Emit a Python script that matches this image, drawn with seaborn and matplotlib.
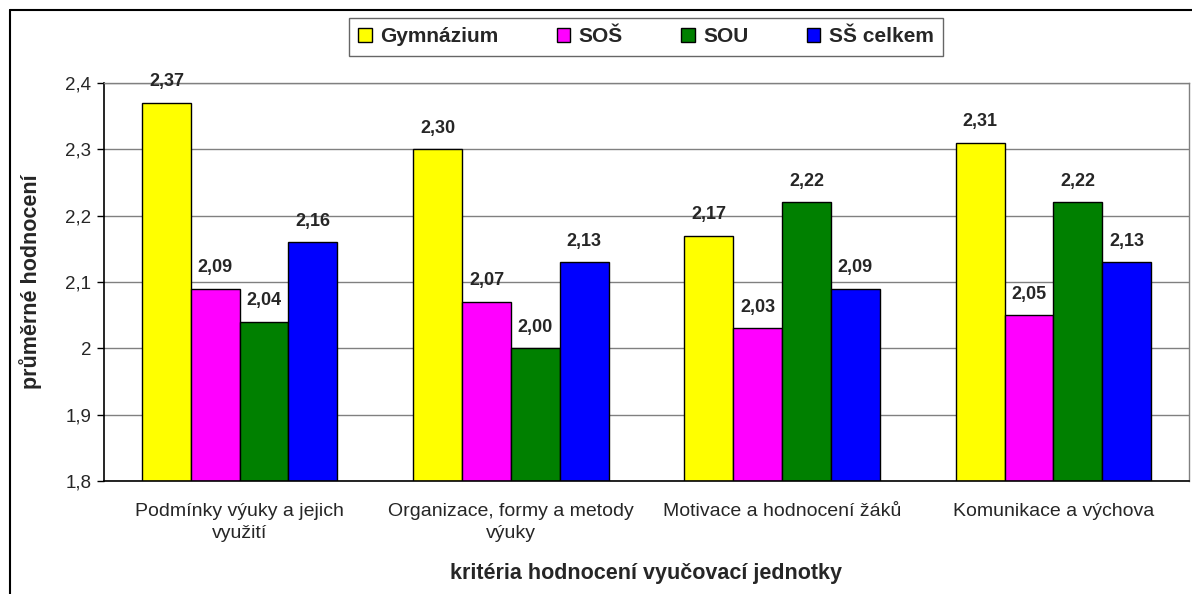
import matplotlib
matplotlib.use("Agg")
import matplotlib.pyplot as plt
import seaborn as sns
import pandas as pd
from matplotlib.lines import Line2D

categories = ["Podmínky výuky a jejich\nvyužití",
              "Organizace, formy a metody\nvýuky",
              "Motivace a hodnocení žáků",
              "Komunikace a výchova"]
series_names = ["Gymnázium", "SOŠ", "SOU", "SŠ celkem"]
gymnazium = [2.37, 2.30, 2.17, 2.31]
sos = [2.09, 2.07, 2.03, 2.05]
sou = [2.04, 2.00, 2.22, 2.22]
ss_celkem = [2.16, 2.13, 2.09, 2.13]
colors = ["#FFFF00", "#FF00FF", "#008000", "#0000FF"]
ytick_values = [1.8, 1.9, 2.0, 2.1, 2.2, 2.3, 2.4]
ytick_labels = ["1,8", "1,9", "2", "2,1", "2,2", "2,3", "2,4"]

rows = []
for name, vals in zip(series_names, [gymnazium, sos, sou, ss_celkem]):
    for cat, v in zip(categories, vals):
        rows.append({"kategorie": cat, "skupina": name, "hodnota": v})
df = pd.DataFrame(rows)

sns.set_style("white")
plt.rcParams["font.family"] = ["Liberation Sans", "DejaVu Sans"]

W, H = 1192, 594
fig = plt.figure(figsize=(W / 100, H / 100), dpi=100)
ax = fig.add_axes([104 / W, 1 - 481 / H, (1189 - 104) / W, (481 - 83) / H])

sns.barplot(data=df, x="kategorie", y="hodnota", hue="skupina",
            order=categories, hue_order=series_names, palette=colors,
            width=0.72, edgecolor="black", linewidth=1, saturation=1,
            ax=ax)

ax.set_ylim(1.8, 2.4)
ax.set_xlim(-0.5, 3.5)
ax.set_yticks(ytick_values)
ax.set_yticklabels(ytick_labels, fontsize=13.5)
ax.yaxis.grid(True, color="#808080", linewidth=1)
ax.set_axisbelow(True)

ax.set_xticks(range(len(categories)))
ax.set_xticklabels(categories, fontsize=14, linespacing=1.4)
ax.set_xticks([-0.5, 0.5, 1.5, 2.5, 3.5], minor=True)
ax.tick_params(axis="x", which="major", length=0, pad=16)
ax.tick_params(axis="x", which="minor", length=5, width=1, color="black", direction="out")
ax.tick_params(axis="y", length=5, width=1, color="black", direction="out", left=True, pad=4)

for side in ["left", "bottom"]:
    ax.spines[side].set_color("black")
    ax.spines[side].set_linewidth(1.2)
for side in ["top", "right"]:
    ax.spines[side].set_color("#808080")
    ax.spines[side].set_linewidth(1)

for cont in ax.containers:
    ax.bar_label(cont, labels=[f"{v:.2f}".replace(".", ",") for v in cont.datavalues],
                 padding=9, fontsize=13, fontweight="bold")

ax.set_ylabel("průměrné hodnocení", fontsize=15.5, fontweight="bold")
ax.yaxis.set_label_coords((42 - 104) / (1189 - 104), 0.5)
ax.set_xlabel("kritéria hodnocení vyučovací jednotky", fontsize=15.5, fontweight="bold")
ax.xaxis.set_label_coords(0.5, -(563 - 481) / (481 - 83))

handles, labels = ax.get_legend_handles_labels()
ax.get_legend().remove()
leg = fig.legend(handles, labels, loc="center", bbox_to_anchor=(646 / W, 1 - 37 / H),
                 ncol=4, frameon=True, fancybox=False, shadow=False,
                 prop={"size": 15, "weight": "bold"}, handlelength=0.65, handleheight=0.65,
                 handletextpad=0.4, columnspacing=2.8, borderpad=0.45, borderaxespad=0)
leg.get_frame().set_edgecolor("#404040")
leg.get_frame().set_linewidth(1)

fig.add_artist(Line2D([10 / W, 10 / W], [0, 1 - 10 / H], transform=fig.transFigure,
                      color="black", linewidth=1.5))
fig.add_artist(Line2D([10 / W, 1], [1 - 10 / H, 1 - 10 / H], transform=fig.transFigure,
                      color="black", linewidth=1.5))

fig.savefig("out.png", dpi=100)
